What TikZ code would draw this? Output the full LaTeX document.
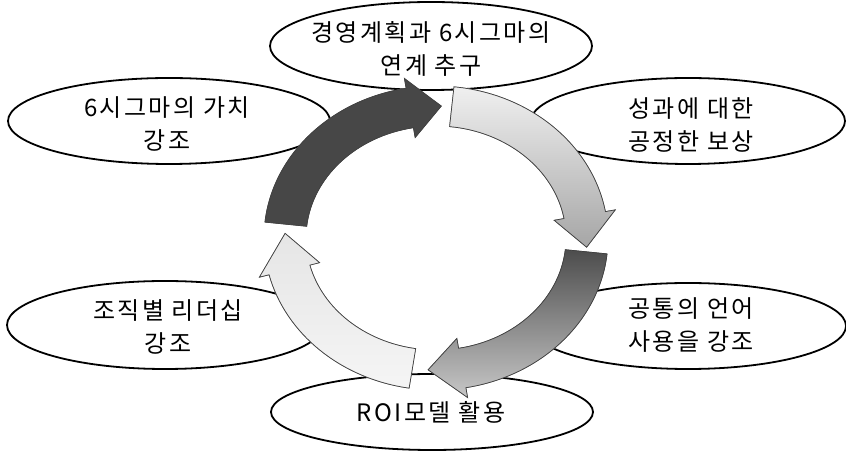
\documentclass[tikz,border=0pt]{standalone}
\usepackage{fontspec}
\usetikzlibrary{calc}
\newfontfamily\krfont[LetterSpace=10]{Noto Sans CJK KR}
\newcommand{\ringarrow}[4]{%
  \path[#1] ($(C)+(#2:172 and 152)$)
    arc[start angle=#2, end angle=#3, x radius=172, y radius=152]
    -- ($(C)+(#3:182 and 162)$)
    -- ($(C)+(#4:151 and 132)$)
    -- ($(C)+(#3:120 and 102)$)
    -- ($(C)+(#3:130 and 112)$)
    arc[start angle=#3, end angle=#2, x radius=130, y radius=112]
    -- cycle;}
\begin{document}
\begin{tikzpicture}[x=1pt,y=1pt,
  oval/.style={draw=black, line width=1.8pt, fill=white},
  lbl/.style={font=\krfont\fontsize{24}{33}\selectfont, align=center, inner sep=0pt},
  arrowface/.style={draw=black!75, line width=0.7pt},
  arrowback/.style={draw=black!65, line width=0.6pt, fill=white, shift={(4,-8)}}]
\useasboundingbox (0,0) rectangle (846,452);
\fill[white] (0,0) rectangle (846,452);
% ellipses
\draw[oval] (431,406) ellipse [x radius=161, y radius=44];
\draw[oval] (169,331) ellipse [x radius=161, y radius=43];
\draw[oval] (688,331) ellipse [x radius=157, y radius=43];
\draw[oval] (165,127) ellipse [x radius=158, y radius=44];
\draw[oval] (688,126) ellipse [x radius=158, y radius=43];
\draw[oval] (432,40) ellipse [x radius=161, y radius=38];
% ring of arrows
\coordinate (C) at (436,214);
\ringarrow{arrowback}{174}{100}{88}
\ringarrow{arrowface, fill=black!72}{174}{100}{88}
\ringarrow{arrowback}{84}{10}{-4}
\ringarrow{arrowface, top color=black!6, bottom color=black!35}{84}{10}{-4}
\ringarrow{arrowback}{-6}{-80}{-93}
\ringarrow{arrowface, top color=black!70, bottom color=black!22}{-6}{-80}{-93}
\ringarrow{arrowback}{-99}{-166}{-182}
\ringarrow{arrowface, top color=black!10, bottom color=black!4}{-99}{-166}{-182}
% labels
\node[lbl] (t1) at (431,403) {경영계획과 6시그마의\\연계 추구};
\node[lbl] (t2) at (167,328) {6시그마의 가치\\강조};
\node[lbl] (t3) at (691,327) {성과에 대한\\공정한 보상};
\node[lbl] (t4) at (168,125) {조직별 리더십\\강조};
\node[lbl] (t5) at (691,127) {공통의 언어\\사용을 강조};
\node[lbl] (t6) at (431,40) {ROI모델 활용};
\end{tikzpicture}
\end{document}
